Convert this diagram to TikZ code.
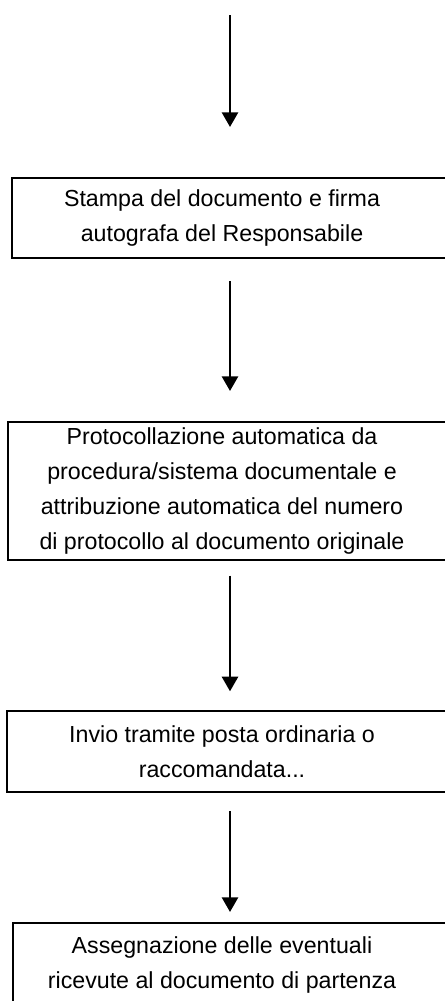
\documentclass[tikz,border=0pt]{standalone}
\usepackage{fontspec}
\setmainfont{Liberation Sans}
\usetikzlibrary{arrows.meta}
\tikzset{
  stepbox/.style={draw, line width=1.5pt, inner sep=0pt},
  steptext/.style={align=center, font=\fontsize{17.4}{26.25}\selectfont, xshift=-6pt},
  flow/.style={-{Triangle[width=12pt,length=11pt]}, line width=2pt},
}
\begin{document}
\begin{tikzpicture}[x=0.75pt,y=-0.75pt]
  \useasboundingbox (0,0) rectangle (444,1001);
  \coordinate (start) at (230,15);
  \node[stepbox, minimum width=327pt, minimum height=60pt,
    label={[steptext]center:Stampa del documento e firma\\autografa del Responsabile}] (s1) at (230,218) {};
  \node[stepbox, minimum width=333pt, minimum height=103.5pt,
    label={[steptext]center:Protocollazione automatica da\\procedura/sistema documentale e\\attribuzione automatica del numero\\di protocollo al documento originale}] (s2) at (230,491) {};
  \node[stepbox, minimum width=334.5pt, minimum height=60.75pt,
    label={[steptext]center:Invio tramite posta ordinaria o\\raccomandata...}] (s3) at (230,751.5) {};
  \node[stepbox, minimum width=325.5pt, minimum height=62.25pt,
    label={[steptext]center:Assegnazione delle eventuali\\ricevute al documento di partenza}] (s4) at (230,964.5) {};
  \draw[flow, shorten >=37.5pt] (start) -- (s1.north);
  \draw[flow, shorten <=16.5pt, shorten >=22.5pt] (s1.south) -- (s2.north);
  \draw[flow, shorten <=11pt, shorten >=14pt] (s2.south) -- (s3.north);
  \draw[flow, shorten <=13.5pt, shorten >=7.5pt] (s3.south) -- (s4.north);
\end{tikzpicture}
\end{document}
